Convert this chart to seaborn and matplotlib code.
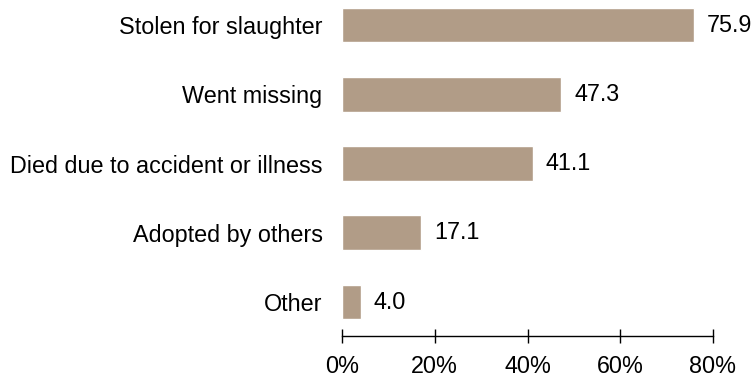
import matplotlib
matplotlib.use("Agg")
import matplotlib.pyplot as plt
import seaborn as sns
import pandas as pd
from matplotlib.ticker import FuncFormatter

categories = ["Stolen for slaughter", "Went missing", "Died due to accident or illness",
              "Adopted by others", "Other"]
values = [75.9, 47.3, 41.1, 17.1, 4.0]
xticks = [0, 20, 40, 60, 80]

df = pd.DataFrame({"category": categories, "value": values})

sns.set_theme(style="white")
plt.rcParams['font.family'] = ['Liberation Sans', 'DejaVu Sans']

FS = 16.8

fig = plt.figure(figsize=(7.53, 3.79), dpi=100)
ax = fig.add_axes([342/753, 1 - 336/379, (713-342)/753, 336/379])

sns.barplot(data=df, x="value", y="category", orient="h", color="#B19C87",
            width=0.5, saturation=1, ax=ax)

for i, v in enumerate(values):
    ax.text(v + 2.8, i, f"{v:.1f}", va="center", ha="left", fontsize=FS, color="black")

ax.set_xlim(0, 80)
ax.set_ylim(4.49, -0.361)
ax.set_xticks(xticks)
ax.xaxis.set_major_formatter(FuncFormatter(lambda x, p: f"{x:.0f}%"))
ax.set_xlabel("")
ax.set_ylabel("")
for s in ["top", "right", "left"]:
    ax.spines[s].set_visible(False)
ax.spines["bottom"].set_color("black")
ax.spines["bottom"].set_linewidth(1.0)
ax.tick_params(axis="x", direction="inout", length=9.4, width=1, color="black",
               labelsize=FS, labelcolor="black", pad=9, bottom=True)
ax.tick_params(axis="y", length=0, labelsize=FS, labelcolor="black", pad=14)

fig.savefig("out.png", dpi=100)
